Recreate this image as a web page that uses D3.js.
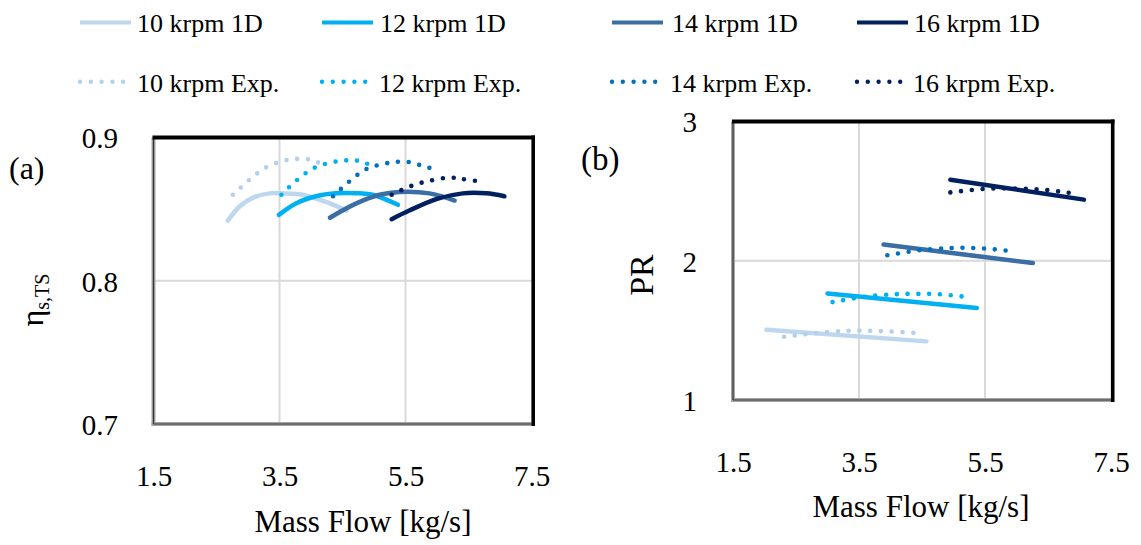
<!DOCTYPE html>
<html>
<head>
<meta charset="utf-8">
<script src="https://cdn.jsdelivr.net/npm/d3@7"></script>
<style>
  html, body { margin: 0; padding: 0; background: #fff; }
  svg { display: block; }
</style>
</head>
<body>
<svg id="chart" width="1141" height="545"></svg>
<script>
// ---------------- DATA ----------------
const speeds = ["10 krpm", "12 krpm", "14 krpm", "16 krpm"];
const color1D  = ["#BDD7EE", "#00B0F0", "#3A6EA5", "#002060"];
const colorExp = ["#B4D0EC", "#00B0F0", "#0070C0", "#002060"];

const xTicks   = [1.5, 3.5, 5.5, 7.5];
const effTicks = [0.7, 0.8, 0.9];
const prTicks  = [1, 2, 3];

// (a) efficiency, 1D model
const effFlow1D = [
  [2.68, 2.87, 3.08, 3.34, 3.53, 3.87, 4.24, 4.56],
  [3.49, 3.76, 4.08, 4.40, 4.77, 4.98, 5.38],
  [4.30, 4.72, 5.09, 5.40, 5.88, 6.28],
  [5.28, 5.56, 5.99, 6.41, 6.78, 7.07]
];
const eff1D = [
  [0.842, 0.852, 0.858, 0.861, 0.861, 0.860, 0.855, 0.849],
  [0.846, 0.854, 0.859, 0.861, 0.861, 0.860, 0.853],
  [0.844, 0.854, 0.860, 0.862, 0.861, 0.856],
  [0.843, 0.849, 0.857, 0.861, 0.861, 0.859]
];
// (a) efficiency, experiment
const effFlowExp = [
  [2.76, 3.01, 3.28, 3.59, 3.76, 3.93, 4.09, 4.25],
  [3.53, 3.77, 4.06, 4.37, 4.54, 4.71, 4.87, 5.02],
  [4.35, 4.60, 4.88, 5.20, 5.37, 5.54, 5.71, 5.87, 6.01],
  [5.28, 5.58, 5.90, 6.23, 6.40, 6.74]
];
const effExp = [
  [0.860, 0.870, 0.879, 0.884, 0.885, 0.885, 0.883, 0.880],
  [0.860, 0.870, 0.879, 0.883, 0.884, 0.884, 0.882, 0.879],
  [0.859, 0.869, 0.878, 0.882, 0.883, 0.883, 0.881, 0.879, 0.875],
  [0.860, 0.866, 0.870, 0.872, 0.871, 0.869]
];
// (b) pressure ratio, 1D model
const prFlow1D = [
  [2.03, 4.57],
  [3.00, 5.37],
  [3.89, 6.26],
  [4.95, 7.07]
];
const pr1D = [
  [1.504, 1.421],
  [1.765, 1.660],
  [2.116, 1.984],
  [2.582, 2.439]
];
// (b) pressure ratio, experiment
const prFlowExp = [
  [2.31, 2.81, 3.32, 3.66, 4.00, 4.51],
  [3.08, 3.58, 4.09, 4.43, 4.77, 5.28],
  [3.95, 4.46, 4.97, 5.31, 5.65, 5.98],
  [4.95, 5.45, 5.79, 6.14, 6.48, 6.81, 6.98]
];
const prExp = [
  [1.454, 1.480, 1.497, 1.497, 1.492, 1.478],
  [1.703, 1.741, 1.760, 1.762, 1.760, 1.736],
  [2.039, 2.075, 2.092, 2.092, 2.082, 2.066],
  [2.491, 2.515, 2.520, 2.517, 2.508, 2.489, 2.477]
];

// ---------------- DRAW ----------------
const FONT = '"Liberation Serif"';
const svg = d3.select("#chart");
const DOT = "0 10.8";

function txt(sel) {
  return sel.style("font-family", FONT).attr("fill", "#000");
}

function panel(cfg) {
  const x = d3.scaleLinear().domain([1.5, 7.5]).range([cfg.x0, cfg.x1]);
  const y = d3.scaleLinear().domain(cfg.yDomain).range([cfg.y1, cfg.y0]);
  const g = svg.append("g");

  g.selectAll("line.vg").data(xTicks.slice(1, -1)).join("line")
    .attr("x1", d => x(d)).attr("x2", d => x(d))
    .attr("y1", cfg.y0).attr("y2", cfg.y1)
    .attr("stroke", "#d9d9d9").attr("stroke-width", 2);
  g.selectAll("line.hg").data(cfg.yTicks.slice(1, -1)).join("line")
    .attr("x1", cfg.x0).attr("x2", cfg.x1)
    .attr("y1", d => y(d)).attr("y2", d => y(d))
    .attr("stroke", "#d9d9d9").attr("stroke-width", 2);

  const xa = g.append("g").attr("transform", `translate(0,${cfg.xLabelY})`)
    .call(d3.axisBottom(x).tickValues(xTicks).tickSize(0).tickFormat(d3.format(".1f")));
  xa.attr("font-family", null).attr("font-size", null);
  xa.select(".domain").remove();
  txt(xa.selectAll("text")).attr("font-size", 29).attr("dy", "0.35em").attr("y", 0);

  const ya = g.append("g").attr("transform", `translate(${cfg.yLabelX},0)`)
    .call(d3.axisLeft(y).tickValues(cfg.yTicks).tickSize(0).tickFormat(cfg.yFmt));
  ya.attr("font-family", null).attr("font-size", null);
  ya.select(".domain").remove();
  txt(ya.selectAll("text")).attr("font-size", 29).attr("dy", "0.36em").attr("x", 0);

  const line = d3.line().x(d => x(d[0])).y(d => y(d[1])).curve(d3.curveCatmullRom.alpha(0.5));

  speeds.forEach((s, i) => {
    const pts = cfg.fx1[i].map((v, k) => [v, cfg.fy1[i][k]]);
    g.append("path").attr("d", line(pts)).attr("fill", "none")
      .attr("stroke", color1D[i]).attr("stroke-width", 4.5).attr("stroke-linecap", "round");
  });
  speeds.forEach((s, i) => {
    const pts = cfg.fxe[i].map((v, k) => [v, cfg.fye[i][k]]);
    g.append("path").attr("d", line(pts)).attr("fill", "none")
      .attr("stroke", colorExp[i]).attr("stroke-width", 4.6)
      .attr("stroke-linecap", "round").attr("stroke-dasharray", DOT);
  });

  g.append("line").attr("x1", cfg.x0).attr("x2", cfg.x0).attr("y1", cfg.y0).attr("y2", cfg.y1 + 2)
    .attr("stroke", "#a6a6a6").attr("stroke-width", 4);
  g.append("line").attr("x1", cfg.x0 - 2).attr("x2", cfg.x1).attr("y1", cfg.y1).attr("y2", cfg.y1)
    .attr("stroke", "#a6a6a6").attr("stroke-width", 4);
  g.append("line").attr("x1", cfg.x0).attr("x2", cfg.x0).attr("y1", cfg.y0).attr("y2", cfg.y1)
    .attr("stroke", "#333").attr("stroke-width", 1.2);
  g.append("line").attr("x1", cfg.x0).attr("x2", cfg.x1).attr("y1", cfg.y1).attr("y2", cfg.y1)
    .attr("stroke", "#333").attr("stroke-width", 1.2);
  g.append("line").attr("x1", cfg.x0 - 1).attr("x2", cfg.x1 + 3.5).attr("y1", cfg.y0).attr("y2", cfg.y0)
    .attr("stroke", "#000").attr("stroke-width", 3.8);
  g.append("line").attr("x1", cfg.x1 + 1.7).attr("x2", cfg.x1 + 1.7).attr("y1", cfg.y0 - 1.9).attr("y2", cfg.y1 + 2)
    .attr("stroke", "#000").attr("stroke-width", 3.6);

  txt(g.append("text")).attr("x", cfg.xTitleX).attr("y", cfg.xTitleY)
    .attr("text-anchor", "middle").attr("font-size", 31).text("Mass Flow [kg/s]");
  return g;
}

panel({
  x0: 153.5, x1: 531.5, y0: 137.5, y1: 424,
  yDomain: [0.7, 0.9], yTicks: effTicks, yFmt: d3.format(".1f"),
  xLabelY: 476, yLabelX: 118, xTitleX: 363, xTitleY: 532,
  fx1: effFlow1D, fy1: eff1D, fxe: effFlowExp, fye: effExp
});
panel({
  x0: 733, x1: 1111, y0: 121.5, y1: 400,
  yDomain: [1, 3], yTicks: prTicks, yFmt: d3.format("d"),
  xLabelY: 462, yLabelX: 697, xTitleX: 921, xTitleY: 517,
  fx1: prFlow1D, fy1: pr1D, fxe: prFlowExp, fye: prExp
});

const eta = txt(svg.append("text")).attr("transform", "translate(43,300) rotate(-90)")
  .attr("text-anchor", "middle");
eta.append("tspan").attr("font-size", 32).text("η");
eta.append("tspan").attr("font-size", 20).attr("dy", 6).text("s,TS");

txt(svg.append("text")).attr("transform", "translate(653,275) rotate(-90)")
  .attr("text-anchor", "middle").attr("font-size", 34).text("PR");

txt(svg.append("text")).attr("x", 9).attr("y", 179).attr("font-size", 32).text("(a)");
txt(svg.append("text")).attr("x", 581).attr("y", 170).attr("font-size", 33).text("(b)");

const legX = [80, 322, 612, 857];
const legTextX1 = [137, 380, 672, 914];
const legTextX2 = [137, 379, 670, 913];
const lg = svg.append("g");
speeds.forEach((s, i) => {
  lg.append("line").attr("x1", legX[i]).attr("x2", legX[i] + 51)
    .attr("y1", 22.5).attr("y2", 22.5)
    .attr("stroke", color1D[i]).attr("stroke-width", 4);
  txt(lg.append("text")).attr("x", legTextX1[i]).attr("y", 31.5)
    .attr("font-size", 26).text(s + " 1D");
  lg.append("line").attr("x1", legX[i]).attr("x2", legX[i] + 44)
    .attr("y1", 81.7).attr("y2", 81.7)
    .attr("stroke", colorExp[i]).attr("stroke-width", 4.4)
    .attr("stroke-linecap", "round").attr("stroke-dasharray", DOT);
  txt(lg.append("text")).attr("x", legTextX2[i]).attr("y", 91.5)
    .attr("font-size", 26).text(s + " Exp.");
});
</script>
</body>
</html>
